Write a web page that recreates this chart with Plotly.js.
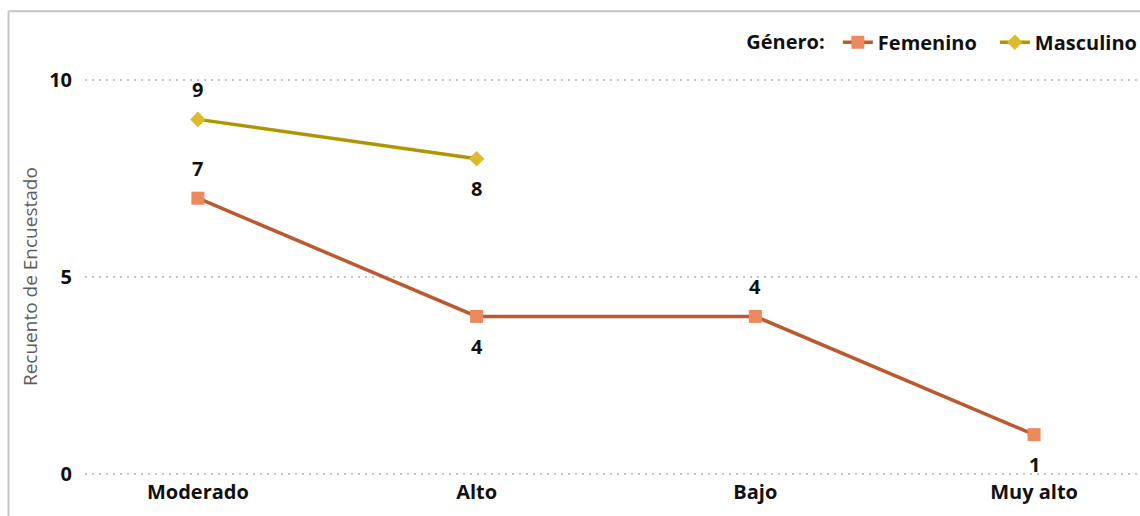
<!DOCTYPE html>
<html>
<head>
<meta charset="utf-8">
<script src="https://cdn.plot.ly/plotly-3.0.1.min.js"></script>
<style>
  html, body { margin: 0; padding: 0; background: #ffffff; }
  #chart { width: 1140px; height: 516px; }
</style>
</head>
<body>
<div id="chart"></div>
<script>
// Nivel por género: recuento de encuestados
const categories = ['Moderado', 'Alto', 'Bajo', 'Muy alto'];
const femenino = [7, 4, 4, 1];
const masculinoCategories = ['Moderado', 'Alto'];
const masculino = [9, 8];
// where each value label sits relative to its point
const femeninoLabelSide = ['above', 'below', 'above', 'below'];
const masculinoLabelSide = ['above', 'below'];

const FONT = 'Open Sans, Noto Sans, sans-serif';
const FEM_LINE = '#BA5A30';
const FEM_MARK = '#EC8A5E';
const MAS_LINE = '#AE9600';
const MAS_MARK = '#DEBB2E';
const TXT = '#111111';

const traces = [
  {
    type: 'scatter', mode: 'lines+markers', name: 'Femenino',
    x: categories, y: femenino,
    line: { color: FEM_LINE, width: 3.5 },
    marker: { symbol: 'square', size: 13, color: FEM_MARK },
    hoverinfo: 'x+y+name'
  },
  {
    type: 'scatter', mode: 'lines+markers', name: 'Masculino',
    x: masculinoCategories, y: masculino,
    line: { color: MAS_LINE, width: 3.5 },
    marker: { symbol: 'diamond', size: 12, color: MAS_MARK },
    hoverinfo: 'x+y+name'
  }
];

function labels(xs, ys, sides) {
  return ys.map((v, i) => ({
    x: xs[i], y: v, xref: 'x', yref: 'y',
    text: String(v), showarrow: false,
    yshift: sides[i] === 'above' ? 30 : -30,
    font: { family: FONT, size: 20, color: TXT, weight: 'bold' }
  }));
}

const annotations = [
  ...labels(categories, femenino, femeninoLabelSide),
  ...labels(masculinoCategories, masculino, masculinoLabelSide),
  // value-axis title
  { xref: 'paper', yref: 'paper', x: -0.0521, y: 0.5, xanchor: 'center', yanchor: 'middle',
    textangle: -90, showarrow: false, text: 'Recuento de Encuestado',
    font: { family: FONT, size: 19, color: '#605e5c' } }
];

// frame around the visual (left and top edges)
const shapes = [
  { type: 'line', xref: 'paper', yref: 'paper', x0: -0.0725, x1: -0.0725, y0: -0.12, y1: 1.168,
    line: { color: '#c6c6c6', width: 2 } },
  { type: 'line', xref: 'paper', yref: 'paper', x0: -0.0725, x1: 1.01, y0: 1.168, y1: 1.168,
    line: { color: '#c6c6c6', width: 2 } }
];

const layout = {
  width: 1140, height: 516,
  margin: { l: 85, r: 0, t: 78, b: 40, autoexpand: false },
  paper_bgcolor: '#ffffff', plot_bgcolor: '#ffffff',
  font: { family: FONT, color: TXT },
  showlegend: true,
  legend: {
    orientation: 'h', x: 1.0116, xanchor: 'right', y: 1.09, yanchor: 'middle',
    title: { text: 'Género: ', side: 'left', font: { family: FONT, size: 20, weight: 'bold', color: TXT } },
    font: { family: FONT, size: 20, weight: 'bold', color: TXT },
    entrywidth: 112, entrywidthmode: 'pixels',
    itemwidth: 30, tracegroupgap: 0
  },
  xaxis: {
    type: 'category', range: [-0.405, 3.38],
    showgrid: false, zeroline: false, showline: false, ticks: '',
    ticklabelstandoff: 2,
    tickfont: { family: FONT, size: 20, weight: 'bold', color: TXT }
  },
  yaxis: {
    range: [-0.05, 10.05], tickvals: [0, 5, 10], ticktext: ['0', '5', '10'],
    showgrid: true, gridcolor: '#c4c4c4', gridwidth: 1.5, griddash: '2px,5px',
    zeroline: false, showline: false, ticks: '',
    ticklabelstandoff: 12,
    tickfont: { family: FONT, size: 20, weight: 'bold', color: TXT }
  },
  annotations: annotations,
  shapes: shapes
};

Plotly.newPlot('chart', traces, layout, { displayModeBar: false, staticPlot: true });
</script>
</body>
</html>
